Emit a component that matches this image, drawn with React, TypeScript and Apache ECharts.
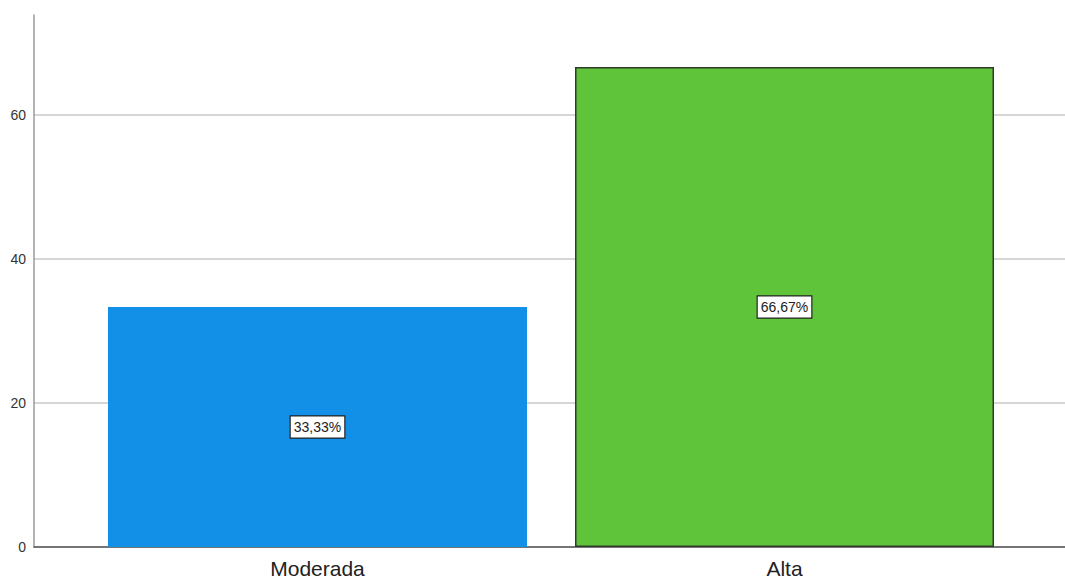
import React, { useEffect, useRef } from "react";
import * as echarts from "echarts";

const categories = ["Moderada", "Alta"];
const values = [33.33, 66.67];
const valueLabels = ["33,33%", "66,67%"];
const barColors = ["#128fe7", "#5fc43a"];
const barBorders = ["#128fe7", "#2f3a2b"];
const yTicks = [0, 20, 40, 60];
const yAxisMax = 73.9;

export default function App() {
  const ref = useRef<HTMLDivElement>(null);
  useEffect(() => {
    if (!ref.current) return;
    const chart = echarts.init(ref.current, undefined, { renderer: "svg" });
    const font = "'Liberation Sans', Arial, sans-serif";
    chart.setOption({
      animation: false,
      backgroundColor: "#ffffff",
      grid: [
        { left: 34, right: 0, top: 15, bottom: 33 },
        { left: 34, right: 0, top: 115, bottom: 33 },
        { left: 84, right: 47, top: 15, bottom: 33 },
      ],
      xAxis: [
        {
          gridIndex: 0,
          type: "value",
          min: 0,
          max: 1,
          axisLine: { show: true, lineStyle: { color: "#555555", width: 1.5 } },
          axisTick: { show: false },
          axisLabel: { show: false },
          splitLine: { show: false },
        },
        { gridIndex: 1, type: "value", min: 0, max: 1, show: false },
        {
          gridIndex: 2,
          type: "category",
          data: categories,
          axisLine: { show: false },
          axisTick: { show: false },
          axisLabel: { fontSize: 21, color: "#222222", margin: 11, fontFamily: font },
        },
      ],
      yAxis: [
        {
          gridIndex: 0,
          type: "value",
          min: 0,
          max: yAxisMax,
          axisLine: { show: true, lineStyle: { color: "#9a9a9a", width: 1.5 } },
          axisTick: { show: false },
          axisLabel: { show: false },
          splitLine: { show: false },
        },
        {
          gridIndex: 1,
          type: "value",
          min: yTicks[0],
          max: yTicks[yTicks.length - 1],
          interval: yTicks[1] - yTicks[0],
          axisLine: { show: false },
          axisTick: { show: false },
          axisLabel: { fontSize: 14, color: "#333333", margin: 8, fontFamily: font },
          splitLine: { show: true, lineStyle: { color: "#c8c8c8", width: 1.5 } },
        },
        { gridIndex: 2, type: "value", min: 0, max: yAxisMax, show: false },
      ],
      series: [
        {
          type: "bar",
          xAxisIndex: 2,
          yAxisIndex: 2,
          barWidth: 419,
          data: values.map((v, i) => ({
            value: v,
            itemStyle: {
              color: barColors[i],
              borderColor: barBorders[i],
              borderWidth: i === 1 ? 1.5 : 0,
            },
          })),
          label: {
            show: true,
            position: "inside",
            formatter: (p: any) => valueLabels[p.dataIndex],
            backgroundColor: "#ffffff",
            borderColor: "#222222",
            borderWidth: 1.2,
            padding: [4, 3, 3, 3],
            fontSize: 14,
            color: "#222222",
            fontFamily: font,
          },
        },
      ],
    });
    return () => chart.dispose();
  }, []);
  return (
    <div
      ref={ref}
      style={{ position: "fixed", left: 0, top: 0, width: 1065, height: 580 }}
    />
  );
}
